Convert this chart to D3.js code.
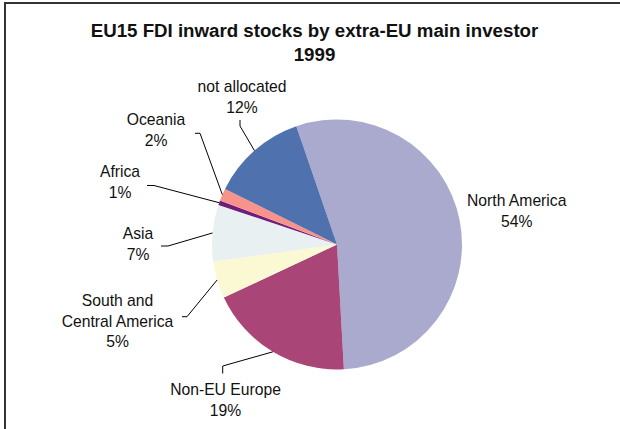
<!DOCTYPE html>
<html>
<head>
<meta charset="utf-8">
<script src="https://cdn.jsdelivr.net/npm/d3@7"></script>
<style>
  html, body { margin: 0; padding: 0; background: #fff; overflow: hidden; }
  svg { display: block; }
  text { font-family: "Liberation Sans", Arial, sans-serif; fill: #111; }
</style>
</head>
<body>
<svg id="chart" width="620" height="429"></svg>
<script>
// ---- data ----
const titleLines = ["EU15 FDI inward stocks by extra-EU main investor", "1999"];
const categories = ["North America", "Non-EU Europe", "South and Central America", "Asia", "Africa", "Oceania", "not allocated"];
const values = [54.4, 18.9, 4.8, 7.3, 0.6, 1.6, 12.4];
const colors = ["#A9AACD", "#A94677", "#FBF8D4", "#E8F0F2", "#6E1E78", "#F8938B", "#4F72AE"];
const labelLines = [["North America"], ["Non-EU Europe"], ["South and", "Central America"], ["Asia"], ["Africa"], ["Oceania"], ["not allocated"]];

// ---- layout (label placement) ----
const labelLayout = [
  { x: 516.7, y: 205.7, leader: null },
  { x: 225.5, y: 395, leader: [[222.7, 366], [222.7, 373.5]] },
  { x: 117.5, y: 305.7, leader: [[187, 316.7], [182, 316.7]] },
  { x: 138, y: 239.3, leader: [[168, 246], [161, 246]] },
  { x: 120, y: 177, leader: [[154, 185.5], [147, 185.5]] },
  { x: 156, y: 125, leader: [[200, 133.3], [195, 133.3]] },
  { x: 242, y: 91.7, leader: [[240, 126], [240, 120]] }
];

const svg = d3.select("#chart");
const cx = 337, cy = 244.5, r = 125;
const lineH = 20.8;

// frame (only top & left visible in reference)
svg.append("rect").attr("x", 5).attr("y", 3).attr("width", 700).attr("height", 500)
  .attr("fill", "none").attr("stroke", "#333").attr("stroke-width", 2);

// title
svg.selectAll("text.title").data(titleLines).enter().append("text")
  .attr("class", "title")
  .attr("x", 314.5).attr("y", (d, i) => 36.7 + i * 24)
  .attr("text-anchor", "middle")
  .style("font-weight", "bold").style("font-size", "18.7px")
  .text(d => d);

const pie = d3.pie().sort(null).value(d => d)
  .startAngle(-19 * Math.PI / 180).endAngle(2 * Math.PI - 19 * Math.PI / 180);
const arcs = pie(values);
const arc = d3.arc().innerRadius(0).outerRadius(r);

const g = svg.append("g").attr("transform", `translate(${cx},${cy})`);
g.selectAll("path").data(arcs).enter().append("path")
  .attr("d", arc).attr("fill", (d, i) => colors[i]);

// leader lines
arcs.forEach((a, i) => {
  const L = labelLayout[i];
  if (!L.leader) return;
  const mid = (a.startAngle + a.endAngle) / 2;
  const p0 = [cx + r * Math.sin(mid), cy - r * Math.cos(mid)];
  const pts = [p0].concat(L.leader);
  svg.append("path").attr("d", d3.line()(pts))
    .attr("fill", "none").attr("stroke", "#000").attr("stroke-width", 1);
});

// labels
arcs.forEach((a, i) => {
  const L = labelLayout[i];
  const lines = labelLines[i].concat([Math.round(values[i]) + "%"]);
  const t = svg.append("text").attr("text-anchor", "middle").style("font-size", "15.7px");
  lines.forEach((s, k) => {
    t.append("tspan").attr("x", L.x).attr("y", L.y + k * lineH).text(s);
  });
});
</script>
</body>
</html>
